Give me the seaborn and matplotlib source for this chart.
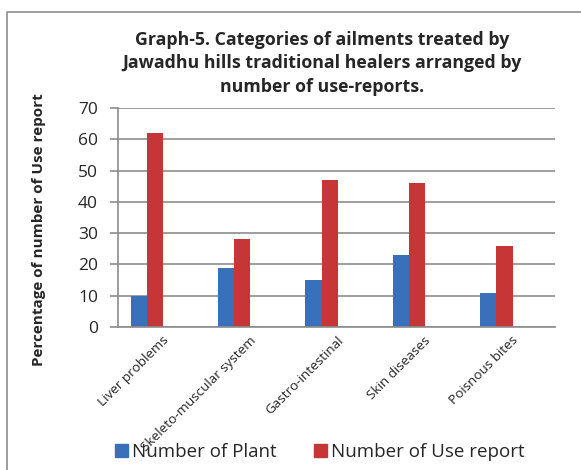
import matplotlib
matplotlib.use("Agg")
import matplotlib.pyplot as plt
import seaborn as sns
import pandas as pd
from matplotlib.patches import Rectangle
from matplotlib.lines import Line2D

categories = ["Liver problems", "Skeleto-muscular system", "Gastro-intestinal",
              "Skin diseases", "Poisnous bites"]
plants = [10, 19, 15, 23, 11]
use_reports = [62, 28, 47, 46, 26]
series = ["Number of Plant", "Number of Use report"]

df = pd.DataFrame({
    "category": categories * 2,
    "value": plants + use_reports,
    "series": [series[0]] * 5 + [series[1]] * 5,
})

sns.set_style("white")
plt.rcParams["font.family"] = ["Open Sans", "DejaVu Sans"]

fig = plt.figure(figsize=(5.81, 4.70), dpi=100)
ax = fig.add_axes([118 / 581, 1 - 327 / 470, 437 / 581, 219 / 470])

# outer chart border (only top and left edges are visible in the original)
fig.lines.append(Line2D([7 / 581, 7 / 581, 1.0], [0.0, 1 - 12 / 470, 1 - 12 / 470],
                        transform=fig.transFigure, color="#8c8c8c", linewidth=1.2))

sns.barplot(data=df, x="category", y="value", hue="series", ax=ax,
            palette=["#3A70BA", "#C63636"], width=0.37, saturation=1,
            edgecolor="none", legend=False)

shift = 0.17
ax.set_xlim(-0.5 + shift, 4.5 + shift)
ax.set_ylim(0, 70)
ax.set_yticks(range(0, 71, 10))
ax.grid(axis="y", color="#8c8c8c", linewidth=1.2)
ax.set_axisbelow(True)
for s in ["top", "right"]:
    ax.spines[s].set_visible(False)
for s in ["left", "bottom"]:
    ax.spines[s].set_color("#8c8c8c")
    ax.spines[s].set_linewidth(1.2)

ax.set_xticks([-0.5 + shift + k for k in range(6)])
ax.set_xticklabels([])
ax.set_xticks([k + shift for k in range(5)], minor=True)
ax.set_xticklabels(categories, minor=True, rotation=45, ha="right",
                   rotation_mode="anchor", fontsize=9.7)
ax.tick_params(axis="x", which="major", length=5, color="#8c8c8c", width=1.2)
ax.tick_params(axis="x", which="minor", length=0, pad=5)
ax.tick_params(axis="y", length=5.8, color="#8c8c8c", width=1.2, labelsize=12.5,
               pad=8.6, left=True)

ax.set_xlabel("")
ax.set_ylabel("Percentage of number of Use report", fontsize=11,
              fontweight="bold")
ax.yaxis.set_label_coords(-0.165, 0.443)

fig.text(0.554, 1 - 31 / 470, "Graph-5. Categories of ailments treated by\n"
         "Jawadhu hills traditional healers arranged by\n"
         "number of use-reports.", ha="center", va="top", fontsize=12.8,
         fontweight="bold", linespacing=1.38)

handles = [Rectangle((0, 0), 1, 1, color="#3A70BA"),
           Rectangle((0, 0), 1, 1, color="#C63636")]
fig.legend(handles, series, loc="center", bbox_to_anchor=(320 / 581, 1 - 452 / 470),
           ncol=2, frameon=False, fontsize=13.5, handlelength=0.7,
           handleheight=0.7, handletextpad=0.2, columnspacing=2.0,
           borderpad=0)

fig.savefig("out.png", dpi=100)
